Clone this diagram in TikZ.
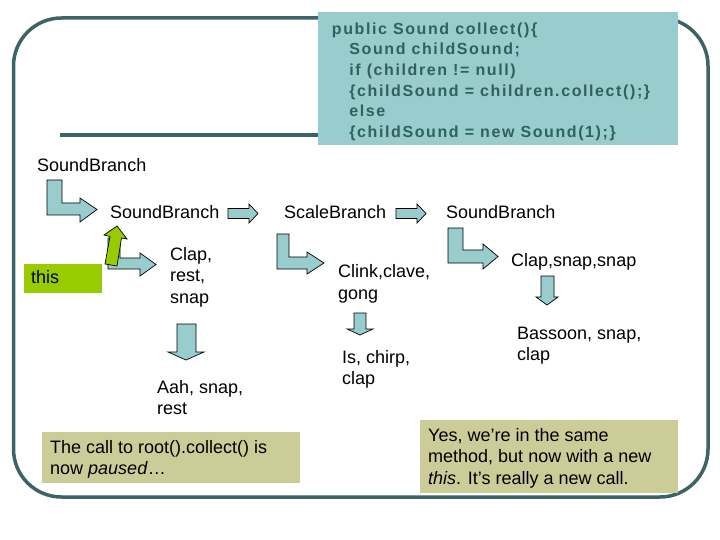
\documentclass[tikz,border=0pt]{standalone}
\usepackage{fontspec}
\setmainfont{Liberation Sans}
\newfontfamily\codefont[LetterSpace=10]{Liberation Sans}
\definecolor{frameteal}{RGB}{60,100,100}
\definecolor{codeteal}{RGB}{50,95,95}
\definecolor{lightteal}{RGB}{153,204,204}
\definecolor{tan}{RGB}{204,204,153}
\definecolor{limegreen}{RGB}{153,204,0}
\tikzset{
  frameline/.style={draw=frameteal, line width=3.5bp},
  blockarrow/.style={fill=lightteal, draw=black, line width=0.7bp, line join=miter},
  greenarrow/.style={fill=limegreen, draw=black, line width=0.7bp, line join=miter},
  lbl/.style={anchor=base west, inner sep=0pt, align=left, font=\fontsize{18bp}{21.5bp}\selectfont},
}
\begin{document}
\begin{tikzpicture}[x=1bp, y=-1bp]
\useasboundingbox (0,0) rectangle (720,540);
% frame
\draw[frameline, rounded corners=48bp] (13.5,18) rectangle (708,497);
\coordinate (sepL) at (60,135);
\coordinate (sepR) at (318,135);
\draw[frameline] (sepL) -- (sepR);
% code box
\node[fill=lightteal, anchor=north west, inner sep=0pt, minimum width=360bp, minimum height=133bp] (codebox) at (318,12) {};
\node[anchor=base west, inner sep=0pt, align=left, text=codeteal,
      font=\codefont\bfseries\fontsize{16bp}{20.6bp}\selectfont] (code) at (331.7,137.3)
 {public Sound collect()\{\\
  \hspace*{17.5bp}Sound childSound;\\
  \hspace*{17.5bp}if (children != null)\\
  \hspace*{17.5bp}\{childSound = children.collect();\}\\
  \hspace*{17.5bp}else\\
  \hspace*{17.5bp}\{childSound = new Sound(1);\}};
% notes
\fill[tan] (42,432) rectangle (300,483);
\node[lbl] (n1) at (50,474.5) {The call to root().collect() is\\now \textit{paused}…};
\fill[tan] (420,420) rectangle (678,493);
\node[lbl] (n2) at (428,484) {Yes, we’re in the same\\method, but now with a new\\\textit{this}. It’s really a new call.};
% this
\fill[limegreen] (24,264) rectangle (102,293);
\node[lbl] (this) at (31,284) {this};
% labels
\node[lbl] (sb1) at (37,172) {SoundBranch};
\node[lbl] (sb2) at (110,219) {SoundBranch};
\node[lbl] (scb) at (284,219) {ScaleBranch};
\node[lbl] (sb3) at (446,219) {SoundBranch};
\node[lbl] (crs) at (170,303.5) {Clap,\\rest,\\snap};
\node[lbl] (ccg) at (338,299.5) {Clink,clave,\\gong};
\node[lbl] (css) at (511,267) {Clap,snap,snap};
\node[lbl] (icc) at (342,384.5) {Is, chirp,\\clap};
\node[lbl] (bsc) at (517,360.5) {Bassoon, snap,\\clap};
\node[lbl] (asr) at (157,414.5) {Aah, snap,\\rest};
% bent arrows
\draw[blockarrow] (47,180) -- (62,180) -- (62,203) -- (80,203) -- (80,198) -- (97,209.5) -- (80,222) -- (80,215) -- (47,215) -- cycle;
\draw[blockarrow] (108,238) -- (120,238) -- (120,258) -- (140,258) -- (140,253) -- (156,264.5) -- (140,276) -- (140,269) -- (108,269) -- cycle;
\draw[blockarrow] (277,234) -- (289,234) -- (289,257) -- (307,257) -- (307,252) -- (324,263) -- (307,274) -- (307,269) -- (277,269) -- cycle;
\draw[blockarrow] (448,228) -- (463,228) -- (463,250) -- (483,250) -- (483,244) -- (498,256.5) -- (483,269) -- (483,263) -- (448,263) -- cycle;
% straight arrows
\draw[blockarrow] (228,208.5) -- (249,208.5) -- (249,204) -- (258,213.5) -- (249,223) -- (249,218.5) -- (228,218.5) -- cycle;
\draw[blockarrow] (396,208.5) -- (417,208.5) -- (417,204) -- (426,213.5) -- (417,223) -- (417,218.5) -- (396,218.5) -- cycle;
% down arrows
\draw[blockarrow] (177,324) -- (196,324) -- (196,352) -- (204,352) -- (186,360) -- (168,352) -- (177,352) -- cycle;
\draw[blockarrow] (354,313) -- (366,313) -- (366,329) -- (373,329) -- (360,335) -- (347,329) -- (354,329) -- cycle;
\draw[blockarrow] (541,276) -- (554,276) -- (554,297) -- (558,297) -- (547,305) -- (536,297) -- (541,297) -- cycle;
% green up arrow
\draw[greenarrow] (105,264) -- (110,236.5) -- (104,235) -- (117,226) -- (127,239) -- (121.5,238) -- (117,266) -- cycle;
\end{tikzpicture}
\end{document}
